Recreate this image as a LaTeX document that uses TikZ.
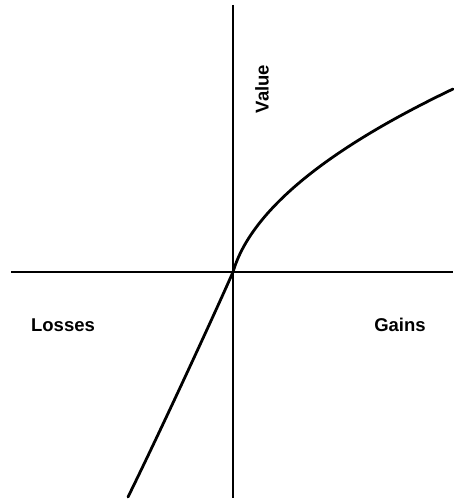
\documentclass[tikz,border=0pt]{standalone}
\usepackage{fontspec}
\setmainfont{Liberation Sans}
\begin{document}
\begin{tikzpicture}[x=1pt,y=-1pt,
  axis/.style={line width=2.2pt,black},
  valcurve/.style={line width=2.8pt,black,line cap=round,line join=round},
  lbl/.style={font=\fontsize{18.5}{22}\selectfont\bfseries,inner sep=0pt}]
\useasboundingbox (0,0) rectangle (453,502);
\coordinate (O) at (233,272);
\coordinate (xl) at (11,272);
\coordinate (xr) at (453,272);
\coordinate (yt) at (233,5);
\coordinate (yb) at (233,498);
\coordinate (lossend) at (128,497);
\draw[axis] (xl) -- (xr);
\draw[axis] (yt) -- (yb);
\draw[valcurve] (lossend) .. controls (160,432) and (215,313) .. (O)
  -- plot[domain=0:220,samples=90,smooth] ({233+\x},{272-13.29*(pow(\x+4,0.51)-2.028)});
\node[lbl,rotate=90] (value) at (262,89) {Value};
\node[lbl] (losses) at (63,325) {Losses};
\node[lbl] (gains) at (400,325) {Gains};
\end{tikzpicture}
\end{document}
